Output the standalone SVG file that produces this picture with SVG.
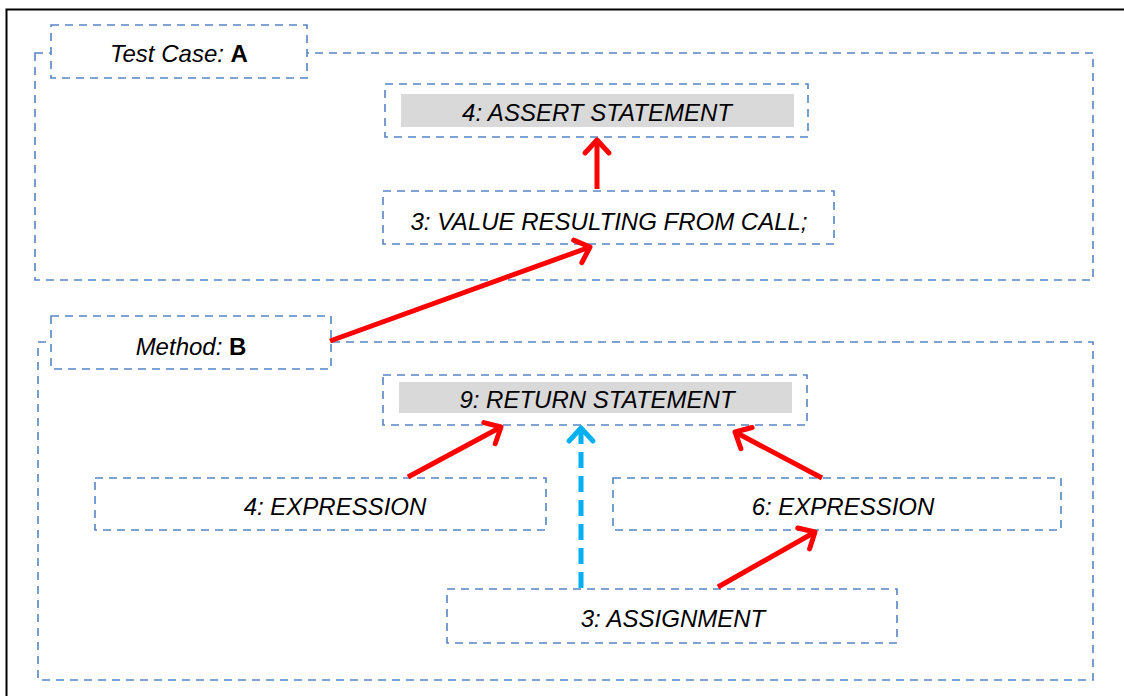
<svg xmlns="http://www.w3.org/2000/svg" width="1124" height="696" viewBox="0 0 1124 696">
<defs>
<style>
.box{fill:none;stroke:#5585c5;stroke-width:1.6;stroke-dasharray:8 6}
.lbl{fill:#fff;stroke:#5585c5;stroke-width:1.6;stroke-dasharray:8 6}
.t{font-family:"Liberation Sans",Arial,sans-serif;font-style:italic;font-size:24px;fill:#000;text-anchor:middle}
.b{font-style:normal;font-weight:bold}
.red{stroke:#ff0000;stroke-width:5;fill:none}
.blue{stroke:#00b0f0;stroke-width:5;fill:none;stroke-dasharray:16 8}
</style>
<marker id="ar" markerUnits="userSpaceOnUse" markerWidth="40" markerHeight="40" viewBox="-20 -20 40 40" refX="0" refY="0" orient="auto">
<path d="M-13,-12 L0,0 L-13,12" fill="none" stroke="#ff0000" stroke-width="5" stroke-linecap="round" stroke-linejoin="round"/>
</marker>
<marker id="ab" markerUnits="userSpaceOnUse" markerWidth="40" markerHeight="40" viewBox="-20 -20 40 40" refX="0" refY="0" orient="auto">
<path d="M-13,-12 L0,0 L-13,12" fill="none" stroke="#00b0f0" stroke-width="5" stroke-linecap="round" stroke-linejoin="round"/>
</marker>
</defs>
<rect x="0" y="0" width="1124" height="696" fill="#fff"/>
<path d="M6.5,696 V9.5 H1124" fill="none" stroke="#000" stroke-width="2"/>

<g id="testcase">
<rect class="box" x="35" y="53" width="1058" height="227"/>
<rect class="lbl" x="51" y="25" width="256" height="53"/>
<text class="t" x="179" y="62">Test Case: <tspan class="b">A</tspan></text>
</g>
<g id="assert">
<rect class="box" x="385" y="84" width="423" height="53"/>
<rect x="401" y="94" width="393" height="33" fill="#d9d9d9"/>
<text class="t" x="597" y="121">4: ASSERT STATEMENT</text>
</g>
<g id="value">
<rect class="box" x="383" y="191" width="451" height="53"/>
<text class="t" x="609" y="230">3: VALUE RESULTING FROM CALL;</text>
</g>

<g id="method">
<rect class="box" x="38" y="342" width="1055" height="338"/>
<rect class="lbl" x="51" y="316" width="280" height="53"/>
<text class="t" x="191" y="355">Method: <tspan class="b">B</tspan></text>
</g>
<g id="return">
<rect class="box" x="383" y="375" width="424" height="50"/>
<rect x="399" y="382" width="393" height="31" fill="#d9d9d9"/>
<text class="t" x="597" y="408">9: RETURN STATEMENT</text>
</g>
<g id="expr4">
<rect class="box" x="95" y="478" width="451" height="52"/>
<text class="t" x="335" y="515">4: EXPRESSION</text>
</g>
<g id="expr6">
<rect class="box" x="613" y="478" width="448" height="52"/>
<text class="t" x="843" y="515">6: EXPRESSION</text>
</g>
<g id="assign">
<rect class="box" x="447" y="589" width="450" height="54"/>
<text class="t" x="673" y="627">3: ASSIGNMENT</text>
</g>

<g id="connectors">
<line class="red" x1="597" y1="189" x2="597" y2="140" marker-end="url(#ar)"/>
<line class="red" x1="330" y1="341" x2="590" y2="247" marker-end="url(#ar)"/>
<line class="red" x1="408" y1="477" x2="501" y2="427" marker-end="url(#ar)"/>
<line class="red" x1="822" y1="478" x2="735" y2="432" marker-end="url(#ar)"/>
<line class="red" x1="718" y1="587" x2="815" y2="532" marker-end="url(#ar)"/>
<line class="blue" x1="581" y1="588" x2="581" y2="428" marker-end="url(#ab)"/>
</g>
</svg>
